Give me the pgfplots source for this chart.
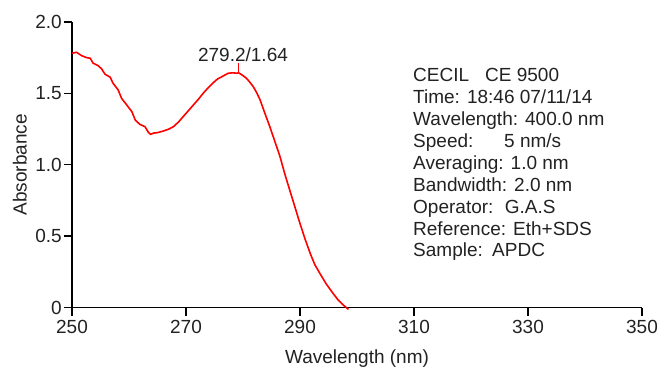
\documentclass[border=0pt]{standalone}
\usepackage{fontspec}
\setmainfont{Liberation Sans}
\usepackage{pgfplots}
\pgfplotsset{compat=1.18}
\definecolor{txt}{HTML}{222222}
\definecolor{spec}{HTML}{FF0000}
\newcommand{\cf}{\fontsize{19pt}{22pt}\selectfont}
\begin{document}
\begin{tikzpicture}[font=\cf, text=txt]
\useasboundingbox (-72pt,-59.5pt) rectangle (588pt,307.5pt);
\begin{axis}[
  at={(0pt,0pt)}, anchor=south west,
  scale only axis, width=570pt, height=285.5pt,
  xmin=250, xmax=350, ymin=0, ymax=2,
  axis x line=bottom, axis y line=left,
  axis line style={-, line width=1.4pt, black},
  tick style={line width=1.4pt, black},
  tick align=outside, major tick length=8pt,
  xtick={250,270,290,310,330,350},
  xticklabels={250,270,290,310,330,350},
  ytick={0,0.5,1,1.5,2},
  yticklabels={0,0.5,1.0,1.5,2.0},
  ticklabel style={font=\cf, text=txt},
  xticklabel style={inner sep=0pt, yshift=-4.5pt},
  yticklabel style={inner sep=0pt, xshift=-2pt},
  xlabel={Wavelength (nm)}, ylabel={Absorbance},
  label style={font=\cf, text=txt},
  xlabel style={at={(axis description cs:0.5,-0.1944)}, anchor=base},
  ylabel style={at={(axis description cs:-0.0795,0.5)}, anchor=base, rotate=0},
  clip=false,
]
\addplot[spec, line width=1.6pt, line join=round] coordinates {
(250.0,1.781) (250.8,1.788) (251.7,1.764) (252.6,1.750) (253.2,1.746)
(253.7,1.712) (254.6,1.694) (255.2,1.671) (255.8,1.634) (256.7,1.613)
(257.2,1.571) (258.1,1.524) (258.7,1.465) (259.6,1.419) (260.5,1.372)
(261.1,1.313) (261.9,1.283) (262.8,1.267) (263.4,1.227) (263.8,1.213)
(264.3,1.222) (265.0,1.225) (266.0,1.236) (267.0,1.250) (267.8,1.267)
(268.7,1.300) (269.5,1.337) (270.4,1.378) (271.3,1.419) (272.2,1.460)
(273.0,1.500) (273.9,1.540) (274.8,1.575) (275.5,1.600) (276.3,1.617)
(277.4,1.641) (278.2,1.644) (279.0,1.641) (279.2,1.645) (279.8,1.630)
(280.6,1.606) (281.2,1.578) (281.8,1.547) (282.4,1.505) (283.0,1.454)
(283.8,1.365) (284.7,1.267) (285.6,1.162) (286.5,1.056) (287.3,0.940)
(288.2,0.822) (289.1,0.705) (290.0,0.588) (290.9,0.478) (291.8,0.378)
(292.6,0.300) (293.5,0.238) (294.6,0.165) (295.8,0.099) (296.7,0.052)
(297.6,0.017) (298.5,-0.013)
};
\draw[spec, line width=1.4pt] (axis cs:279.2,1.645) -- (axis cs:279.2,1.713);
\end{axis}
\node[anchor=base] at (171pt,245.8pt) {279.2/1.64};
\node[anchor=base west, inner sep=0pt] at (341pt,225.8pt) {CECIL};
\node[anchor=base west, inner sep=0pt] at (413pt,225.8pt) {CE 9500};
\node[anchor=base west, inner sep=0pt] at (341pt,203.9pt) {Time: 18:46 07/11/14};
\node[anchor=base west, inner sep=0pt] at (341pt,182.0pt) {Wavelength: 400.0 nm};
\node[anchor=base west, inner sep=0pt] at (341pt,160.1pt) {Speed:};
\node[anchor=base west, inner sep=0pt] at (432pt,160.1pt) {5 nm/s};
\node[anchor=base west, inner sep=0pt] at (341pt,138.2pt) {Averaging: 1.0 nm};
\node[anchor=base west, inner sep=0pt] at (341pt,116.3pt) {Bandwidth: 2.0 nm};
\node[anchor=base west, inner sep=0pt] at (341pt,94.4pt) {Operator:\hspace{0.6em}G.A.S};
\node[anchor=base west, inner sep=0pt] at (341pt,72.5pt) {Reference: Eth+SDS};
\node[anchor=base west, inner sep=0pt] at (341pt,50.6pt) {Sample:};
\node[anchor=base west, inner sep=0pt] at (420pt,50.6pt) {APDC};
\end{tikzpicture}
\end{document}
